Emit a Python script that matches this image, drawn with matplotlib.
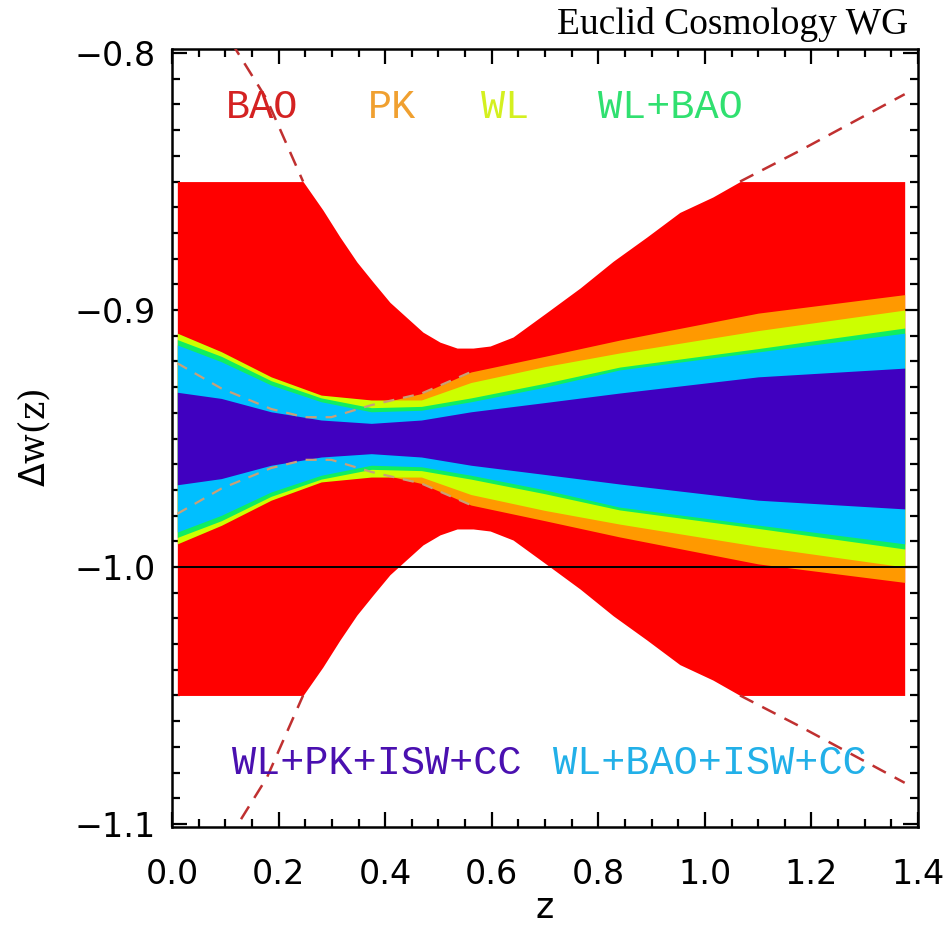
import numpy as np
import matplotlib
matplotlib.use("Agg")
import matplotlib.pyplot as plt
from matplotlib.ticker import MultipleLocator, FuncFormatter

# all bands are centred on w = -0.95, values below are half-widths
center = -0.95

# BAO (red, clipped at -0.85 / -1.05, dashed beyond)
z_bao = [0.01, 0.10, 0.118, 0.178, 0.246, 0.283, 0.315, 0.347, 0.377, 0.409, 0.441,
         0.471, 0.503, 0.535, 0.565, 0.597, 0.640, 0.703, 0.766, 0.828, 0.891, 0.953,
         1.015, 1.066, 1.178, 1.375]
sig_bao = [0.19, 0.158, 0.152, 0.132, 0.100, 0.089, 0.0785, 0.0687, 0.061, 0.053, 0.047,
           0.0414, 0.0375, 0.0352, 0.0352, 0.036, 0.0395, 0.049, 0.0586, 0.069, 0.0784, 0.088,
           0.094, 0.100, 0.112, 0.134]
bao_clip = 0.10

# PK (orange)
z_pk = [0.01, 0.0925, 0.186, 0.249, 0.299, 0.374, 0.468, 0.561, 0.70, 0.84, 1.10, 1.375]
sig_pk = [0.0293, 0.0195, 0.0115, 0.0083, 0.0083, 0.013, 0.0175, 0.0259, 0.032, 0.0383,
          0.0488, 0.056]

# WL (yellow-green)
z_wl = [0.01, 0.0925, 0.186, 0.28, 0.374, 0.468, 0.561, 0.70, 0.84, 1.10, 1.375]
sig_wl = [0.041, 0.0338, 0.024, 0.0169, 0.015, 0.015, 0.0218, 0.028, 0.0333, 0.042, 0.050]

# WL+BAO (green)
z_wlbao = [0.01, 0.0925, 0.186, 0.28, 0.374, 0.468, 0.561, 0.70, 0.84, 1.10, 1.375]
sig_wlbao = [0.0385, 0.032, 0.0225, 0.0158, 0.012, 0.0125, 0.0158, 0.0215, 0.0278, 0.035, 0.043]

# WL+BAO+ISW+CC (cyan)
z_cyan = [0.01, 0.0925, 0.186, 0.28, 0.374, 0.468, 0.561, 0.70, 0.84, 1.10, 1.375]
sig_cyan = [0.0364, 0.0299, 0.0208, 0.0143, 0.0104, 0.011, 0.0143, 0.020, 0.0267, 0.0337, 0.041]

# WL+PK+ISW+CC (purple)
z_purple = [0.01, 0.0925, 0.186, 0.28, 0.374, 0.468, 0.561, 0.70, 0.84, 1.10, 1.375]
sig_purple = [0.018, 0.0156, 0.0104, 0.0072, 0.0059, 0.0072, 0.0104, 0.014, 0.0177, 0.024, 0.0274]

top_labels = ["BAO", "PK", "WL", "WL+BAO"]
top_label_x = [0.169, 0.413, 0.625, 0.936]
top_label_colors = ["#d42222", "#f0a030", "#d4f020", "#30e070"]
bottom_labels = ["WL+PK+ISW+CC", "WL+BAO+ISW+CC"]
bottom_label_x = [0.385, 1.01]
bottom_label_colors = ["#4a10b0", "#22b0e8"]

fig = plt.figure(figsize=(9.46, 9.27), dpi=100)
ax = fig.add_axes([172 / 946, 1 - 827 / 927, (918 - 172) / 946, (827 - 49) / 927])


def band(z, s, color):
    z = np.array(z)
    s = np.array(s)
    ax.fill_between(z, center - s, center + s, color=color, lw=0, zorder=2)


# red BAO band, clipped
zb = np.array(z_bao)
sb = np.array(sig_bao)
ax.fill_between(zb, center - np.minimum(sb, bao_clip), center + np.minimum(sb, bao_clip),
                color="#ff0000", lw=0, zorder=2)
sb_out = np.ma.masked_where(sb < bao_clip - 1e-9, sb)
for sign in (1, -1):
    ax.plot(zb, center + sign * sb_out, color="#c03030", lw=1.8, ls=(0, (6, 4)), zorder=4)

band(z_pk, sig_pk, "#ff9900")
band(z_wl, sig_wl, "#ccff00")
band(z_wlbao, sig_wlbao, "#10ee60")
band(z_cyan, sig_cyan, "#00bfff")
band(z_purple, sig_purple, "#4000c0")

# PK dashed edges where hidden under the combined bands
zp = np.array(z_pk)
sp = np.ma.masked_where(zp > 0.6, np.array(sig_pk))
for sign in (1, -1):
    ax.plot(zp, center + sign * sp, color="#c8a078", lw=1.6, ls=(0, (5, 4)), zorder=4)

ax.axhline(-1.0, color="black", lw=1.4, zorder=5)

for lab, x, c in zip(top_labels, top_label_x, top_label_colors):
    ax.text(x, -0.821, lab, color=c, ha="center", va="center",
            family="Liberation Mono", fontsize=29, zorder=6)
for lab, x, c in zip(bottom_labels, bottom_label_x, bottom_label_colors):
    ax.text(x, -1.0763, lab, color=c, ha="center", va="center",
            family="Liberation Mono", fontsize=29, zorder=6)

fmt = FuncFormatter(lambda v, p: f"{v:.1f}".replace("-", "\u2212"))
ax.set_xlim(0.0, 1.4)
ax.set_ylim(-1.1012, -0.7984)
ax.xaxis.set_major_locator(MultipleLocator(0.2))
ax.xaxis.set_minor_locator(MultipleLocator(0.05))
ax.yaxis.set_major_locator(MultipleLocator(0.1))
ax.yaxis.set_minor_locator(MultipleLocator(0.01))
ax.xaxis.set_major_formatter(fmt)
ax.yaxis.set_major_formatter(fmt)
ax.tick_params(which="both", direction="in", top=True, right=True, width=1.6, labelsize=24)
ax.tick_params(which="major", length=11)
ax.tick_params(which="minor", length=6)
ax.tick_params(axis="x", pad=22)
ax.tick_params(axis="y", pad=12)
for sp_ in ax.spines.values():
    sp_.set_linewidth(1.8)

ax.set_xlabel("z", fontsize=25, labelpad=0)
ax.set_ylabel(r"$\Delta$w(z)", fontsize=25, family="DejaVu Serif", labelpad=15)

fig.text(908 / 946, 1 - 25 / 927, "Euclid Cosmology WG", ha="right", va="center",
         family="Liberation Serif", fontsize=27)

fig.savefig("out.png", dpi=100)
